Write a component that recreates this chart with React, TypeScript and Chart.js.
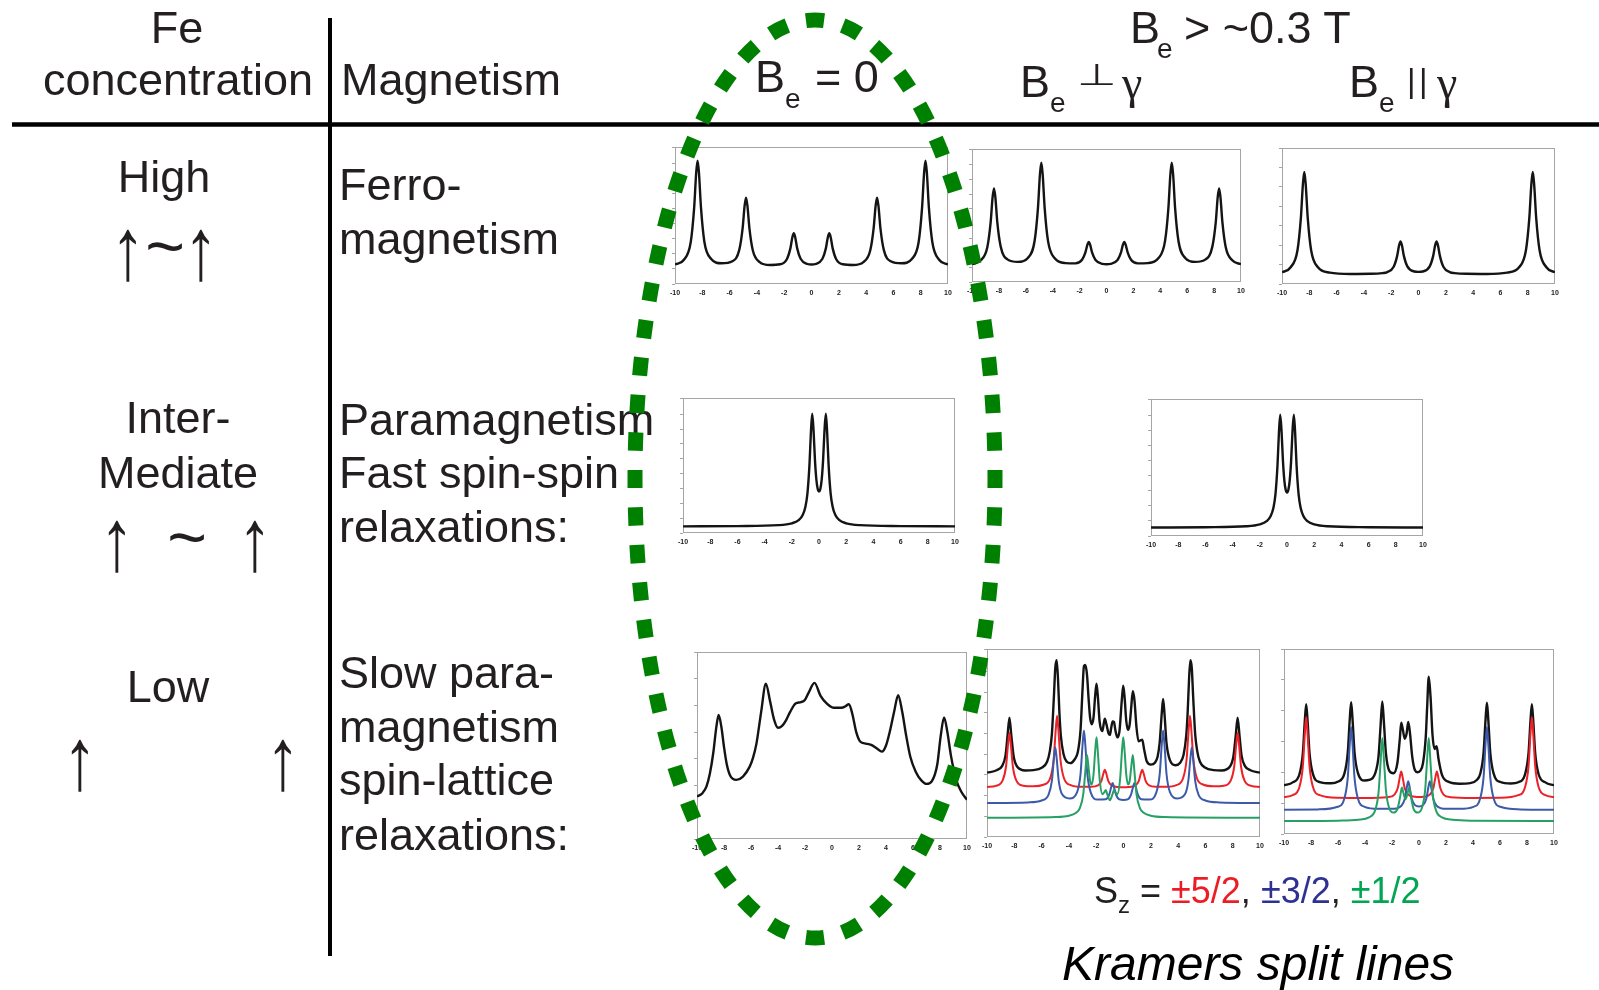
import React, { useEffect, useRef } from "react";
import { Chart, registerables } from "chart.js";

Chart.register(...registerables);

const FONT = "'Liberation Sans', Arial, Helvetica, sans-serif";
const SERIF = "'Liberation Serif', 'Times New Roman', serif";
const INK = "#231f20";

// ---------- axis ----------
const X_MIN = -10;
const X_MAX = 10;
const X_STEP = 2;

// ---------- Row 1: ferromagnetism (velocity x, absorption % of plot height) ----------
const FERRO0_X = [-10, -9.35, -8.85, -8.6, -8.45, -8.35, -8.25, -8.1, -7.85, -7.35, -6.6, -5.8, -5.3, -5.05, -4.9, -4.8, -4.7, -4.55, -4.3, -3.8, -3.05, -2.3, -1.8, -1.55, -1.4, -1.3, -1.2, -1.05, -0.8, -0.3, 0, 0.3, 0.8, 1.05, 1.2, 1.3, 1.4, 1.55, 1.8, 2.3, 3.05, 3.8, 4.3, 4.55, 4.7, 4.8, 4.9, 5.05, 5.3, 5.8, 6.6, 7.35, 7.85, 8.1, 8.25, 8.35, 8.45, 8.6, 8.85, 9.35, 10];
const FERRO0_Y = [14.2, 17.7, 30.7, 55.7, 81.4, 90, 81.4, 55.7, 30.7, 18.3, 15.1, 16.6, 24.7, 40.6, 57.4, 63, 57.4, 40.6, 24.4, 16.0, 13.9, 14.4, 18.3, 26, 34.3, 37, 34.3, 26, 18.4, 14.6, 14.2, 14.6, 18.4, 26, 34.3, 37, 34.3, 26, 18.3, 14.4, 13.9, 16.0, 24.4, 40.6, 57.4, 63, 57.4, 40.6, 24.7, 16.6, 15.1, 18.3, 30.7, 55.7, 81.4, 90, 81.4, 55.7, 30.7, 17.7, 14.2];

const FERRO_PERP_X = [-10, -9.37, -8.87, -8.62, -8.47, -8.37, -8.27, -8.12, -7.87, -7.37, -6.6, -5.85, -5.35, -5.1, -4.95, -4.85, -4.75, -4.6, -4.35, -3.85, -3.05, -2.32, -1.82, -1.57, -1.42, -1.32, -1.22, -1.07, -0.82, -0.3, 0, 0.3, 0.82, 1.07, 1.22, 1.32, 1.42, 1.57, 1.82, 2.32, 3.05, 3.85, 4.35, 4.6, 4.75, 4.85, 4.95, 5.1, 5.35, 5.85, 6.6, 7.37, 7.87, 8.12, 8.27, 8.37, 8.47, 8.62, 8.87, 9.37, 10];
const FERRO_PERP_Y = [13.4, 16.1, 25.9, 44.6, 64.0, 70.4, 64.0, 44.6, 26.6, 17.0, 15.1, 18.1, 30.8, 55.5, 81.2, 89.7, 81.2, 55.5, 30.7, 17.8, 14.2, 14.0, 16.7, 22.3, 28.1, 30.1, 28.1, 22.0, 16.5, 13.6, 13.4, 13.6, 16.5, 22.0, 28.1, 30.1, 28.1, 22.3, 16.7, 14.0, 14.2, 17.8, 30.7, 55.5, 81.2, 89.7, 81.2, 55.5, 30.8, 18.1, 15.1, 17.0, 26.6, 44.6, 64.0, 70.4, 64.0, 44.6, 25.9, 16.1, 13.4];

const FERRO_PAR_X = [-10, -9.37, -8.87, -8.62, -8.47, -8.37, -8.27, -8.12, -7.87, -7.37, -6.5, -5, -3.5, -2.64, -2.32, -1.82, -1.57, -1.42, -1.32, -1.22, -1.07, -0.82, -0.3, 0, 0.3, 0.82, 1.07, 1.22, 1.32, 1.42, 1.57, 1.82, 2.32, 2.64, 3.5, 5, 6.5, 7.37, 7.87, 8.12, 8.27, 8.37, 8.47, 8.62, 8.87, 9.37, 10];
const FERRO_PAR_Y = [8.6, 12.3, 24.8, 48.8, 73.6, 82.3, 73.6, 48.8, 24.8, 12.3, 8.4, 7.4, 7.5, 8.0, 8.6, 12.7, 20.5, 28.6, 31.3, 28.6, 20.5, 13.0, 9.2, 8.9, 9.2, 13.0, 20.5, 28.6, 31.3, 28.6, 20.5, 12.7, 8.6, 8.0, 7.5, 7.4, 8.4, 12.3, 24.8, 48.8, 73.6, 82.3, 73.6, 48.8, 24.8, 12.3, 8.6];

// ---------- Row 2: fast paramagnetism (doublet) ----------
const PARA_X = [-10, -6, -3, -2, -1.5, -1.2, -1.0, -0.85, -0.7, -0.6, -0.5, -0.4, -0.3, -0.2, -0.1, 0, 0.1, 0.2, 0.3, 0.4, 0.5, 0.6, 0.7, 0.85, 1.0, 1.2, 1.5, 2, 3, 6, 10];
const PARA0_Y = [4.9, 5.1, 5.8, 7.2, 9.5, 13.4, 19.5, 29.6, 51.2, 74.1, 88.4, 75.5, 54.2, 40.0, 32.8, 30.8, 32.8, 40.0, 54.2, 75.5, 88.4, 74.1, 51.2, 29.6, 19.5, 13.4, 9.5, 7.2, 5.8, 5.1, 4.9];
const PARA_FIELD_Y = [6.2, 6.4, 7.1, 8.5, 10.8, 14.6, 20.6, 30.5, 51.8, 74.5, 88.5, 75.9, 54.8, 40.8, 33.7, 31.7, 33.7, 40.8, 54.8, 75.9, 88.5, 74.5, 51.8, 30.5, 20.6, 14.6, 10.8, 8.5, 7.1, 6.4, 6.2];

// ---------- Row 3: slow paramagnetism ----------
const SLOW0_X = [-10, -9.6, -9.3, -9.05, -8.8, -8.57, -8.4, -8.2, -8.0, -7.8, -7.55, -7.1, -6.6, -6.1, -5.85, -5.6, -5.25, -4.9, -4.6, -4.3, -4.0, -3.7, -3.4, -3.1, -2.7, -2.3, -2.0, -1.75, -1.3, -0.85, -0.4, 0.1, 0.7, 1.0, 1.25, 1.5, 1.8, 2.1, 2.5, 2.9, 3.3, 3.7, 4.0, 4.3, 4.6, 4.9, 5.2, 5.5, 5.8, 6.2, 6.6, 7.0, 7.4, 7.8, 8.05, 8.3, 8.55, 8.8, 9.2, 9.6, 10];
const SLOW0_Y = [22.7, 24.5, 28.1, 35, 46, 60, 66.3, 60, 49, 40, 34, 31.6, 33.4, 38.7, 43.5, 51, 68, 83.1, 74, 64, 59.5, 60.5, 63.6, 68.0, 72.5, 73.2, 74.5, 78, 83.5, 76.5, 72.5, 70.2, 70.2, 71.0, 72.1, 67, 57, 52, 51, 50.3, 48.5, 46.7, 50, 58, 68, 76.9, 68, 55, 44, 36, 31.5, 29.5, 31, 40, 55, 65, 57, 45, 31.6, 25, 21.0];

// B perpendicular: total (black) and Kramers doublets
const PERP_TOTAL_X = [-10, -9.3, -8.9, -8.65, -8.5, -8.36, -8.22, -8.05, -7.8, -7.2, -6.6, -6.0, -5.6, -5.4, -5.25, -5.1, -5.0, -4.9, -4.8, -4.7, -4.6, -4.4, -4.15, -3.9, -3.6, -3.35, -3.15, -3.0, -2.9, -2.8, -2.68, -2.55, -2.45, -2.33, -2.2, -2.08, -1.98, -1.88, -1.75, -1.55, -1.45, -1.37, -1.25, -1.1, -1.0, -0.9, -0.8, -0.7, -0.6, -0.45, -0.3, -0.12, -0.02, 0.08, 0.2, 0.33, 0.45, 0.55, 0.68, 0.8, 0.95, 1.1, 1.25, 1.37, 1.5, 1.7, 2.0, 2.3, 2.5, 2.65, 2.8, 2.9, 3.0, 3.15, 3.4, 3.8, 4.15, 4.4, 4.6, 4.7, 4.8, 4.9, 5.0, 5.1, 5.25, 5.4, 5.6, 6.0, 6.6, 7.2, 7.8, 8.05, 8.22, 8.36, 8.5, 8.65, 8.9, 9.3, 10];
const PERP_TOTAL_Y = [34.2, 35.5, 37.7, 43.3, 53.8, 63.5, 53.8, 42.8, 37.5, 35.4, 35.6, 36.8, 40.0, 45.7, 54.7, 75, 90, 94, 83.8, 66.3, 54.4, 44.1, 40.0, 39.3, 41.1, 45.2, 57, 79, 91, 91.5, 86.5, 72.5, 63.5, 60, 63.5, 75, 81.5, 74.5, 61.3, 56.3, 60.3, 62.9, 59.9, 55.1, 54.3, 58.2, 61.5, 61.2, 56.9, 53, 56.2, 73.4, 80.5, 74.1, 61.8, 57, 59.8, 67.7, 77.5, 72.8, 58.3, 50.9, 51.4, 51.8, 47, 40.3, 38.5, 39.5, 42.8, 50.3, 65.7, 73.4, 65.7, 49.9, 40.9, 38.2, 39.5, 43.7, 54.4, 66.3, 83.8, 94, 90, 75, 54.7, 45.7, 40.0, 36.8, 35.6, 35.4, 37.5, 42.8, 53.8, 63.5, 53.8, 43.3, 37.7, 35.5, 34.2];
const PERP_52_X = [-10, -9.36, -8.86, -8.61, -8.46, -8.36, -8.26, -8.11, -7.86, -7.36, -6.6, -5.87, -5.37, -5.12, -4.97, -4.87, -4.77, -4.62, -4.37, -3.87, -3.1, -2.37, -1.87, -1.62, -1.47, -1.37, -1.27, -1.12, -0.87, -0.37, 0, 0.37, 0.87, 1.12, 1.27, 1.37, 1.47, 1.62, 1.87, 2.37, 3.1, 3.87, 4.37, 4.62, 4.77, 4.87, 4.97, 5.12, 5.37, 5.87, 6.6, 7.36, 7.86, 8.11, 8.26, 8.36, 8.46, 8.61, 8.86, 9.36, 10];
const PERP_52_Y = [26.6, 27.2, 30.1, 37.5, 49.5, 55.3, 49.5, 37.5, 30.1, 27.3, 27.0, 27.8, 31.4, 41.1, 56.8, 64.5, 56.8, 41.1, 31.4, 27.6, 26.7, 26.7, 27.4, 29.9, 33.9, 35.8, 33.9, 29.9, 27.4, 26.6, 26.5, 26.6, 27.4, 29.9, 33.9, 35.8, 33.9, 29.9, 27.4, 26.7, 26.7, 27.6, 31.4, 41.1, 56.8, 64.5, 56.8, 41.1, 31.4, 27.8, 27.0, 27.3, 30.1, 37.5, 49.5, 55.3, 49.5, 37.5, 30.1, 27.2, 26.6];
const PERP_32_X = [-10, -7, -6.0, -5.5, -5.25, -5.1, -5.0, -4.9, -4.75, -4.5, -3.95, -3.4, -3.15, -3.0, -2.9, -2.8, -2.65, -2.4, -1.9, -1.3, -1.05, -0.9, -0.8, -0.7, -0.55, -0.3, 0, 0.3, 0.55, 0.7, 0.8, 0.9, 1.05, 1.3, 1.9, 2.4, 2.65, 2.8, 2.9, 3.0, 3.15, 3.4, 3.95, 4.5, 4.75, 4.9, 5.0, 5.1, 5.25, 5.5, 6.0, 7, 10];
const PERP_32_Y = [18.1, 18.4, 19.4, 22.4, 29.9, 41.8, 47.6, 41.9, 30.0, 22.7, 20.5, 23.9, 33.5, 49.2, 56.7, 49.0, 33.3, 23.6, 19.9, 20.1, 22.5, 26.6, 28.7, 26.6, 22.6, 20.0, 19.7, 20.0, 22.6, 26.6, 28.7, 26.6, 22.5, 20.1, 19.9, 23.6, 33.3, 49.0, 56.7, 49.2, 33.5, 23.9, 20.5, 22.7, 30.0, 41.9, 47.6, 41.8, 29.9, 22.4, 19.4, 18.4, 18.1];
const PERP_12_X = [-10, -5, -4, -3.5, -3.2, -2.95, -2.8, -2.68, -2.55, -2.45, -2.33, -2.2, -2.08, -1.98, -1.88, -1.75, -1.55, -1.4, -1.3, -1.2, -1.0, -0.8, -0.7, -0.6, -0.45, -0.25, -0.12, -0.02, 0.08, 0.2, 0.33, 0.45, 0.55, 0.68, 0.8, 0.95, 1.2, 1.5, 2, 3, 10];
const PERP_12_Y = [10.2, 10.6, 11.3, 12.8, 15.4, 22.8, 34.8, 43.6, 36.1, 29.8, 28.0, 33.2, 45.6, 53.0, 45.0, 30.9, 22.8, 23.9, 25.0, 22.9, 19.6, 22.9, 25.0, 23.9, 22.8, 30.9, 45.0, 53.0, 45.6, 33.2, 28.0, 29.8, 36.1, 43.6, 34.8, 22.8, 15.4, 12.8, 11.3, 10.6, 10.2];

// B parallel: total (black) and Kramers doublets
const PAR_TOTAL_X = [-10, -9.36, -8.86, -8.61, -8.46, -8.36, -8.26, -8.11, -7.86, -7.36, -6.5, -6.03, -5.53, -5.28, -5.13, -5.03, -4.93, -4.78, -4.53, -4.03, -3.7, -3.25, -3.0, -2.85, -2.72, -2.6, -2.45, -2.2, -1.9, -1.6, -1.42, -1.32, -1.2, -1.06, -0.92, -0.8, -0.68, -0.5, -0.3, -0.1, 0.1, 0.3, 0.5, 0.6, 0.72, 0.85, 1.0, 1.15, 1.3, 1.45, 1.7, 2.2, 3.0, 3.8, 4.3, 4.53, 4.78, 4.93, 5.03, 5.13, 5.28, 5.53, 6.03, 6.8, 7.36, 7.86, 8.11, 8.26, 8.36, 8.46, 8.61, 8.86, 9.36, 10];
const PAR_TOTAL_Y = [26.3, 27.9, 32.3, 43.4, 61.4, 70.2, 61.4, 43.4, 32.4, 28.1, 27.4, 28.2, 32.6, 44.0, 62.3, 71.3, 62.4, 44.2, 33.0, 28.9, 29.2, 32.8, 42.1, 58.4, 71.7, 60.1, 43.4, 34.1, 32.8, 38.5, 51.7, 60.2, 56.5, 51.5, 54.3, 60.6, 55.2, 41.6, 34.5, 33.4, 34.2, 38.5, 52.6, 68.3, 85.0, 74.5, 53.4, 45.9, 47.5, 40.3, 32.0, 28.2, 27.2, 27.5, 29.3, 32.4, 43.7, 62.0, 71.0, 62.0, 43.7, 32.6, 28.1, 27.3, 28.0, 32.4, 43.4, 61.4, 70.2, 61.4, 43.4, 32.3, 27.9, 26.3];
const PAR_52_X = [-10, -9.36, -8.86, -8.61, -8.46, -8.36, -8.26, -8.11, -7.86, -7.36, -6, -4, -2.32, -1.82, -1.57, -1.42, -1.32, -1.22, -1.07, -0.82, -0.32, 0, 0.32, 0.82, 1.07, 1.22, 1.32, 1.42, 1.57, 1.82, 2.32, 4, 6, 7.36, 7.86, 8.11, 8.26, 8.36, 8.46, 8.61, 8.86, 9.36, 10];
const PAR_52_Y = [20.0, 21.0, 25.4, 36.4, 54.4, 63.2, 54.4, 36.4, 25.4, 21.0, 19.6, 19.5, 19.9, 21.3, 25.0, 30.9, 33.8, 30.9, 25.0, 21.4, 20.1, 19.95, 20.1, 21.4, 25.0, 30.9, 33.8, 30.9, 25.0, 21.3, 19.9, 19.5, 19.6, 21.0, 25.4, 36.4, 54.4, 63.2, 54.4, 36.4, 25.4, 21.0, 20.0];
const PAR_32_X = [-10, -7.5, -6.03, -5.53, -5.28, -5.13, -5.03, -4.93, -4.78, -4.53, -4.03, -3, -2, -1.3, -1.05, -0.9, -0.8, -0.7, -0.55, -0.3, 0, 0.3, 0.55, 0.7, 0.8, 0.9, 1.05, 1.3, 2, 3, 4.03, 4.53, 4.78, 4.93, 5.03, 5.13, 5.28, 5.53, 6.03, 7.5, 10];
const PAR_32_Y = [13.1, 13.3, 14.7, 19.2, 30.5, 48.8, 57.8, 48.8, 30.5, 19.2, 14.7, 13.6, 13.6, 15.3, 19.2, 25.4, 28.5, 25.5, 19.3, 15.6, 14.8, 15.6, 19.3, 25.5, 28.5, 25.4, 19.2, 15.3, 13.6, 13.6, 14.7, 19.2, 30.5, 48.8, 57.8, 48.8, 30.5, 19.2, 14.7, 13.3, 13.1];
const PAR_12_X = [-10, -6, -4.5, -3.7, -3.25, -3.0, -2.85, -2.72, -2.6, -2.45, -2.2, -1.9, -1.6, -1.4, -1.27, -1.15, -1.0, -0.85, -0.73, -0.6, -0.4, -0.1, 0.2, 0.45, 0.6, 0.72, 0.85, 1.0, 1.25, 1.7, 2.5, 4, 10];
const PAR_12_Y = [7.0, 7.2, 7.7, 9.0, 12.9, 22.4, 38.6, 51.9, 40.3, 23.5, 13.8, 11.6, 13.5, 20.1, 25.1, 22.0, 18.8, 22.0, 25.1, 20.1, 13.5, 11.6, 13.8, 23.5, 40.3, 51.9, 38.6, 22.4, 12.9, 9.0, 7.7, 7.2, 7.0];

// ---------- colours ----------
const C_TOTAL = "#141414";
const C_52 = "#ec2229";
const C_32 = "#3c5aa8";
const C_12 = "#27a066";

type Line = { x: number[]; y: number[]; color: string };

const PAD_L = 10;
const PAD_R = 10;
const PAD_T = 4;
const AXIS_H = 18;

const framePlugin = {
  id: "frame",
  beforeDatasetsDraw(chart: any) {
    const { ctx, chartArea: a } = chart;
    ctx.save();
    ctx.strokeStyle = "#a5a5a5";
    ctx.lineWidth = 1;
    ctx.strokeRect(Math.round(a.left) + 0.5, Math.round(a.top) + 0.5, Math.round(a.right - a.left) - 1, Math.round(a.bottom - a.top) - 1);
    ctx.restore();
  },
};

function Spectrum({ box, lines, yStep }: { box: number[]; lines: Line[]; yStep: number }) {
  const ref = useRef<HTMLCanvasElement | null>(null);
  const [left, top, width, height] = box;
  const cw = width + PAD_L + PAD_R;
  const ch = height + PAD_T + AXIS_H;
  useEffect(() => {
    const canvas = ref.current;
    if (!canvas) return;
    const chart = new Chart(canvas, {
      type: "line",
      data: {
        datasets: lines.map((l) => ({
          data: l.x.map((x, i) => ({ x, y: l.y[i] })),
          borderColor: l.color,
          borderWidth: l.color === C_TOTAL ? 2.4 : 2,
          pointRadius: 0,
          fill: false,
          cubicInterpolationMode: "monotone" as const,
        })),
      },
      options: {
        responsive: false,
        animation: false,
        devicePixelRatio: 1,
        events: [],
        layout: { padding: { left: PAD_L - 3, right: PAD_R, top: PAD_T, bottom: 0 } },
        plugins: { legend: { display: false }, tooltip: { enabled: false } },
        scales: {
          x: {
            type: "linear",
            min: X_MIN,
            max: X_MAX,
            border: { display: false },
            grid: { display: false, drawTicks: false },
            ticks: {
              stepSize: X_STEP,
              autoSkip: false,
              maxRotation: 0,
              padding: 5,
              color: "#222",
              font: { size: 7, weight: "bold", family: FONT },
            },
            afterFit: (s: any) => {
              s.height = AXIS_H;
            },
          },
          y: {
            min: 0,
            max: 100,
            border: { display: false },
            grid: { drawOnChartArea: false, drawTicks: true, tickLength: 3, color: "#a5a5a5" },
            ticks: { display: false, stepSize: yStep },
            afterFit: (s: any) => {
              s.width = 3;
            },
          },
        },
      },
      plugins: [framePlugin],
    });
    return () => chart.destroy();
  }, []);
  return (
    <canvas
      ref={ref}
      width={cw}
      height={ch}
      style={{ position: "absolute", left: left - PAD_L, top: top - PAD_T, width: cw, height: ch, display: "block" }}
    />
  );
}

const T = (props: any) => <text fontFamily={FONT} fill={INK} fontSize={45} {...props} />;

function Arrow({ x, y }: { x: number; y: number }) {
  return (
    <T x={0} y={0} textAnchor="middle" fontSize={88} transform={`translate(${x},${y}) scale(0.78,1)`}>
      ↑
    </T>
  );
}

export default function App() {
  return (
    <div style={{ position: "absolute", left: 0, top: 0, width: 1599, height: 990, overflow: "hidden", background: "#fff" }}>
      <Spectrum box={[675, 147, 273, 137]} lines={[{ x: FERRO0_X, y: FERRO0_Y, color: C_TOTAL }]} yStep={11} />
      <Spectrum box={[972, 149, 269, 133]} lines={[{ x: FERRO_PERP_X, y: FERRO_PERP_Y, color: C_TOTAL }]} yStep={11} />
      <Spectrum box={[1282, 148, 273, 136]} lines={[{ x: FERRO_PAR_X, y: FERRO_PAR_Y, color: C_TOTAL }]} yStep={14.3} />
      <Spectrum box={[683, 398, 272, 135]} lines={[{ x: PARA_X, y: PARA0_Y, color: C_TOTAL }]} yStep={11} />
      <Spectrum box={[1151, 399, 272, 137]} lines={[{ x: PARA_X, y: PARA_FIELD_Y, color: C_TOTAL }]} yStep={11} />
      <Spectrum box={[697, 652, 270, 187]} lines={[{ x: SLOW0_X, y: SLOW0_Y, color: C_TOTAL }]} yStep={14.3} />
      <Spectrum
        box={[987, 649, 273, 188]}
        lines={[
          { x: PERP_12_X, y: PERP_12_Y, color: C_12 },
          { x: PERP_32_X, y: PERP_32_Y, color: C_32 },
          { x: PERP_52_X, y: PERP_52_Y, color: C_52 },
          { x: PERP_TOTAL_X, y: PERP_TOTAL_Y, color: C_TOTAL },
        ]}
        yStep={11}
      />
      <Spectrum
        box={[1284, 649, 270, 185]}
        lines={[
          { x: PAR_12_X, y: PAR_12_Y, color: C_12 },
          { x: PAR_32_X, y: PAR_32_Y, color: C_32 },
          { x: PAR_52_X, y: PAR_52_Y, color: C_52 },
          { x: PAR_TOTAL_X, y: PAR_TOTAL_Y, color: C_TOTAL },
        ]}
        yStep={16.7}
      />

      <svg width={1599} height={990} style={{ position: "absolute", left: 0, top: 0, pointerEvents: "none" }}>
        {/* table rules */}
        <line x1={330} y1={18} x2={330} y2={956} stroke="#000" strokeWidth={4} />
        <line x1={12} y1={124.5} x2={1599} y2={124.5} stroke="#000" strokeWidth={4.5} />

        {/* header */}
        <T x={177} y={43} textAnchor="middle">Fe</T>
        <T x={178} y={95} textAnchor="middle">concentration</T>
        <T x={341} y={95}>Magnetism</T>

        <T x={755} y={92}>B</T>
        <T x={785} y={108} fontSize={28}>e</T>
        <T x={815} y={92}>= 0</T>

        <T x={1130} y={43}>B</T>
        <T x={1157} y={58} fontSize={28}>e</T>
        <T x={1184} y={43}>&gt; ~0.3 T</T>

        <T x={1020} y={97}>B</T>
        <T x={1050} y={112} fontSize={28}>e</T>
        <T x={0} y={0} fontSize={46} transform="translate(1077,85) scale(1,0.66)">⊥</T>
        <text x={1122} y={98} fontFamily={SERIF} fontSize={46} fill={INK}>γ</text>

        <T x={1349} y={97}>B</T>
        <T x={1379} y={112} fontSize={28}>e</T>
        <T x={1407} y={92} fontSize={33}>|</T>
        <T x={1419} y={92} fontSize={33}>|</T>
        <text x={1437} y={98} fontFamily={SERIF} fontSize={46} fill={INK}>γ</text>

        {/* concentration column */}
        <T x={164} y={192} textAnchor="middle">High</T>
        <Arrow x={128} y={279} />
        <T x={165} y={270} textAnchor="middle" fontSize={68}>~</T>
        <Arrow x={201} y={279} />

        <T x={178} y={433} textAnchor="middle">Inter-</T>
        <T x={178} y={488} textAnchor="middle">Mediate</T>
        <Arrow x={117} y={570} />
        <T x={187} y={561} textAnchor="middle" fontSize={68}>~</T>
        <Arrow x={255} y={570} />

        <T x={168} y={702} textAnchor="middle">Low</T>
        <Arrow x={80} y={789} />
        <Arrow x={283} y={789} />

        {/* magnetism column */}
        <T x={339} y={200}>Ferro-</T>
        <T x={339} y={254}>magnetism</T>
        <T x={339} y={435}>Paramagnetism</T>
        <T x={339} y={488}>Fast spin-spin</T>
        <T x={339} y={542}>relaxations:</T>
        <T x={339} y={688}>Slow para-</T>
        <T x={339} y={742}>magnetism</T>
        <T x={339} y={795}>spin-lattice</T>
        <T x={339} y={850}>relaxations:</T>

        {/* Kramers legend */}
        <text x={1094} y={903} fontFamily={FONT} fontSize={36} fill={INK}>
          <tspan>S</tspan>
          <tspan fontSize={24} dy={10}>z</tspan>
          <tspan dy={-10}> = </tspan>
          <tspan fill="#ed1c24">±5/2</tspan>
          <tspan>, </tspan>
          <tspan fill="#2e3192">±3/2</tspan>
          <tspan>, </tspan>
          <tspan fill="#00a651">±1/2</tspan>
        </text>
        <T x={1062} y={980} fontSize={48} fontStyle="italic" fill="#000">Kramers split lines</T>

        {/* highlight ellipse: 56 dashes, one centred at each extreme */}
        <ellipse
          cx={815}
          cy={479}
          rx={180}
          ry={459}
          fill="none"
          stroke="#008000"
          strokeWidth={15}
          pathLength={2240}
          strokeDasharray="19.5 20.5"
          strokeDashoffset={9.75}
        />
      </svg>
    </div>
  );
}
